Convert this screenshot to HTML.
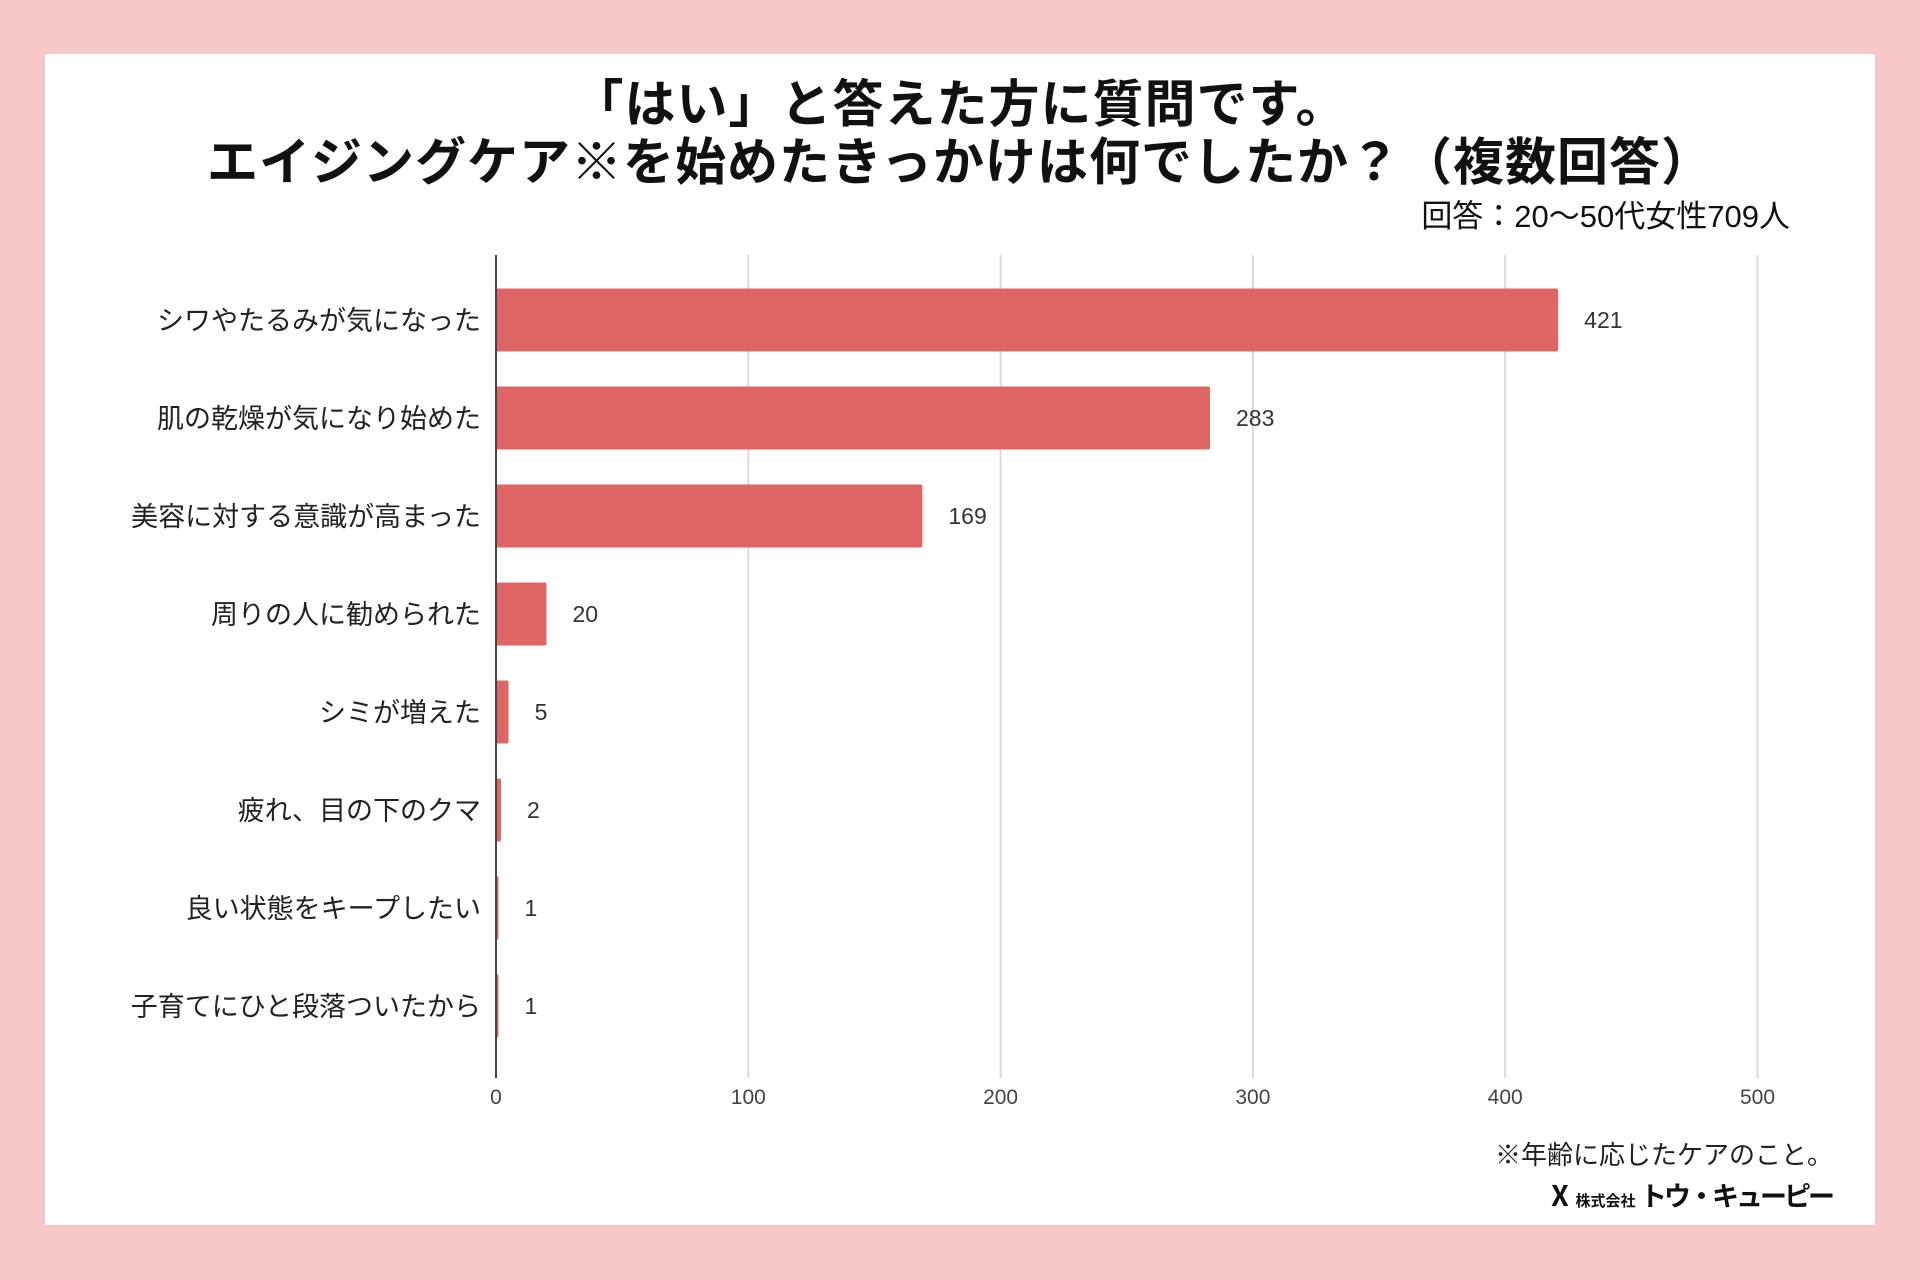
<!DOCTYPE html>
<html><head><meta charset="utf-8">
<style>
html,body{margin:0;padding:0;width:1920px;height:1280px;background:#f8c8c8;overflow:hidden}
#card{position:absolute;left:45px;top:54px;width:1830px;height:1171px;background:#fff}
.t{position:absolute;font-family:"Liberation Sans","Noto Sans CJK JP",sans-serif;color:#111;white-space:nowrap}
svg{position:absolute;left:0;top:0}
</style></head><body>
<div id="card"></div>
<div class="t" style="left:0;width:1920px;text-align:center;top:63px;font-size:51px;font-weight:bold;letter-spacing:1px">「はい」と答えた方に質問です。</div>
<div class="t" style="left:0;width:1920px;text-align:center;top:121px;font-size:51px;font-weight:bold;letter-spacing:1px">エイジングケア※を始めたきっかけは何でしたか？（複数回答）</div>
<div class="t" style="right:130px;top:191px;font-size:31px">回答：20〜50代女性709人</div>
<svg id="chart" width="1920" height="1280"></svg>
<div class="t" style="right:87px;top:1135px;font-size:26px;color:#222">※年齢に応じたケアのこと。</div>
<div class="t" style="right:88px;top:1175px;font-size:27px;font-weight:bold;letter-spacing:-3px"><span style="font-size:28px">Ⅹ</span> <span style="font-size:15px;letter-spacing:0">株式会社</span> トウ・キューピー</div>
<script>
const categories=["シワやたるみが気になった","肌の乾燥が気になり始めた","美容に対する意識が高まった","周りの人に勧められた","シミが増えた","疲れ、目の下のクマ","良い状態をキープしたい","子育てにひと段落ついたから"];
const values=[421,283,169,20,5,2,1,1];
const ticks=[0,100,200,300,400,500];
const svg=document.getElementById('chart');
const NS='http://www.w3.org/2000/svg';
const x0=496,pxPer=2.523,yTop=255,yBot=1078,rowTop=271,rowH=98,barH=63;
const xs=v=>x0+v*pxPer;
const yc=i=>rowTop+rowH*i+rowH/2;
function mk(t,a){const e=document.createElementNS(NS,t);for(const k in a)e.setAttribute(k,a[k]);svg.appendChild(e);return e;}
ticks.forEach(v=>{
 if(v>0){const g=mk('line',{x1:xs(v),x2:xs(v),y1:yTop,y2:yBot,stroke:'#dadada','stroke-width':2});
 
 }
 const t=mk('text',{x:xs(v),y:1104,'text-anchor':'middle','font-size':21,fill:'#444','font-family':'Liberation Sans, sans-serif'});
 t.textContent=v;
 
 
});
values.forEach((v,i)=>{
 const r=mk('rect',{x:x0,y:yc(i)-barH/2,width:Math.max(xs(v)-x0,2),height:barH,fill:'#e06666',rx:2});
 
 
 const l=mk('text',{x:481,y:yc(i)+10,'text-anchor':'end','font-size':27,fill:'#222','font-family':'Liberation Sans, Noto Sans CJK JP, sans-serif'});
 l.textContent=categories[i];
 
 
 const vl=mk('text',{x:xs(v)+26,y:yc(i)+8,'font-size':23,fill:'#333','font-family':'Liberation Sans, sans-serif'});
 vl.textContent=v;
 
 
});
const ax=mk('line',{x1:x0,x2:x0,y1:yTop,y2:yBot,stroke:'#444','stroke-width':2});


</script>
</body></html>
